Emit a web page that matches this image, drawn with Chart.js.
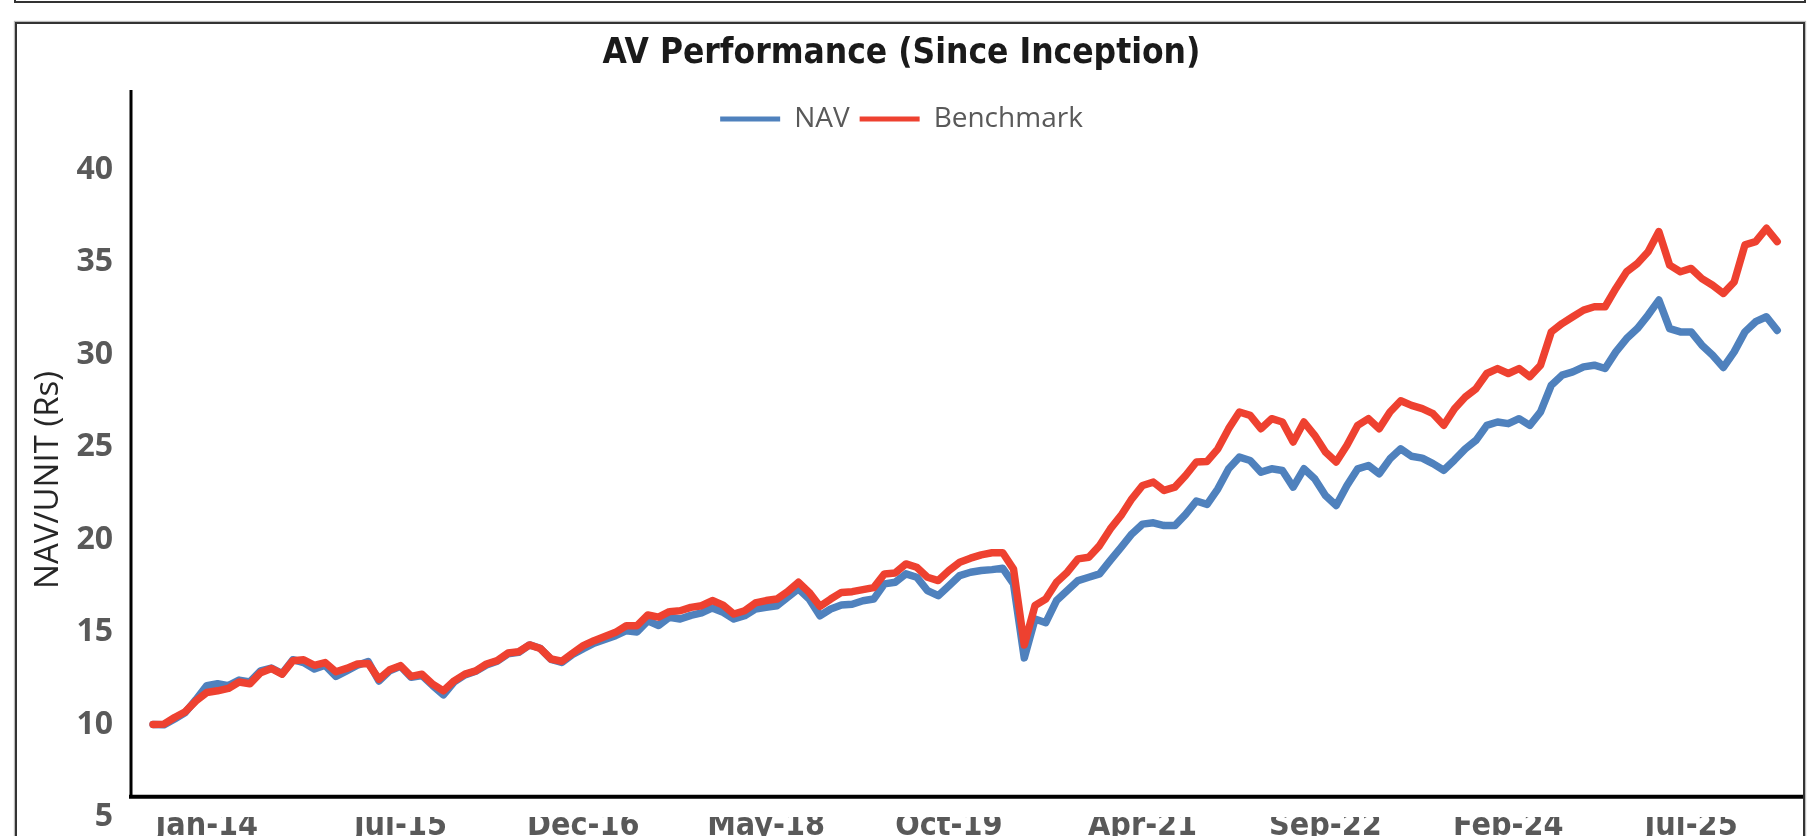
<!DOCTYPE html>
<html>
<head>
<meta charset="utf-8">
<title>AV Performance</title>
<script src="https://cdn.jsdelivr.net/npm/chart.js@4.4.1/dist/chart.umd.min.js"></script>
<style>
  html, body { margin: 0; padding: 0; background: #fff; overflow: hidden; width: 1820px; height: 836px; }
  #prev-box { position: absolute; left: 14px; top: -12px; width: 1788px; height: 11px; border: 2px solid #333; }
  #chart-box { position: absolute; left: 15px; top: 22px; width: 1786px; height: 900px; border: 2px solid #333; box-shadow: 0 0 1px 1px #bbb; }
  #perf-chart { position: absolute; left: 0; top: 0; }
</style>
</head>
<body>
<div id="prev-box"></div>
<div id="chart-box"></div>
<canvas id="perf-chart" width="1820" height="860"></canvas>
<script>
// Monthly sample points, first one is Aug-13 (a little before inception month labels start)
const MONTHS = ["Jan", "Feb", "Mar", "Apr", "May", "Jun", "Jul", "Aug", "Sep", "Oct", "Nov", "Dec"];
let DATES = [];
for (let i = 0; i < 152; i++) {
  let m = (7 + i) % 12;
  let yr = 13 + Math.floor((7 + i) / 12);
  DATES.push(MONTHS[m] + "-" + yr);
}

// Labels printed under the x axis
const TICK_LABELS = ["Jan-14", "Jul-15", "Dec-16", "May-18", "Oct-19", "Apr-21", "Sep-22", "Feb-24", "Jul-25"];

// Y axis tick values
const Y_TICKS = [5, 10, 15, 20, 25, 30, 35, 40];

// NAV per unit (Rs)
const NAV = [
  10.0, 9.98, 10.3, 10.65, 11.35, 12.1, 12.2, 12.1, 12.4, 12.3,
  12.9, 13.05, 12.75, 13.5, 13.35, 13.0, 13.2, 12.6, 12.9, 13.2,
  13.4, 12.35, 12.9, 13.15, 12.55, 12.65, 12.1, 11.6, 12.3, 12.68,
  12.88, 13.22, 13.42, 13.82, 13.9, 14.3, 14.12, 13.52, 13.35, 13.78,
  14.1, 14.4, 14.6, 14.8, 15.07, 15.0, 15.6, 15.35, 15.8, 15.7,
  15.9, 16.03, 16.3, 16.06, 15.7, 15.88, 16.24, 16.33, 16.42, 16.87,
  17.33, 16.78, 15.88, 16.24, 16.46, 16.5, 16.69, 16.78, 17.6, 17.69,
  18.14, 17.96, 17.24, 16.96, 17.5, 18.05, 18.23, 18.32, 18.37, 18.44,
  17.6, 13.6, 15.7, 15.5, 16.7, 17.24, 17.78, 17.96, 18.14, 18.87,
  19.58, 20.3, 20.83, 20.9, 20.75, 20.75, 21.36, 22.08, 21.9, 22.74,
  23.82, 24.45, 24.27, 23.64, 23.82, 23.73, 22.83, 23.82, 23.28, 22.38,
  21.84, 22.92, 23.82, 24.0, 23.55, 24.36, 24.9, 24.5, 24.4, 24.1,
  23.74, 24.3, 24.9, 25.36, 26.17, 26.35, 26.26, 26.53, 26.17, 26.9,
  28.34, 28.88, 29.06, 29.33, 29.42, 29.24, 30.14, 30.86, 31.4, 32.13,
  32.94, 31.4, 31.22, 31.22, 30.5, 29.96, 29.3, 30.14, 31.22, 31.77,
  32.04, 31.3
];

// Benchmark, same months
const BENCHMARK = [
  10.0, 10.02, 10.38, 10.69, 11.28, 11.73, 11.82, 11.95, 12.3, 12.2,
  12.8, 13.03, 12.72, 13.45, 13.5, 13.2, 13.35, 12.85, 13.03, 13.27,
  13.3, 12.45, 12.96, 13.18, 12.6, 12.72, 12.18, 11.82, 12.36, 12.72,
  12.9, 13.27, 13.45, 13.86, 13.93, 14.3, 14.11, 13.54, 13.42, 13.85,
  14.26, 14.53, 14.76, 14.98, 15.34, 15.34, 15.92, 15.8, 16.1, 16.15,
  16.33, 16.42, 16.7, 16.45, 15.97, 16.15, 16.57, 16.7, 16.78, 17.18,
  17.69, 17.14, 16.39, 16.78, 17.14, 17.18, 17.29, 17.4, 18.14, 18.19,
  18.68, 18.5, 17.96, 17.78, 18.32, 18.77, 18.99, 19.17, 19.28, 19.28,
  18.4, 14.3, 16.43, 16.78, 17.69, 18.23, 18.95, 19.04, 19.67, 20.57,
  21.3, 22.2, 22.92, 23.1, 22.65, 22.83, 23.46, 24.19, 24.22, 24.9,
  25.99, 26.89, 26.71, 25.99, 26.53, 26.35, 25.27, 26.35, 25.63, 24.73,
  24.19, 25.09, 26.17, 26.53, 25.99, 26.89, 27.5, 27.25, 27.07, 26.8,
  26.17, 27.07, 27.7, 28.15, 28.97, 29.24, 28.97, 29.24, 28.8, 29.42,
  31.22, 31.67, 32.04, 32.4, 32.58, 32.58, 33.57, 34.47, 34.92, 35.55,
  36.64, 34.83, 34.47, 34.65, 34.1, 33.74, 33.3, 33.92, 35.92, 36.1,
  36.82, 36.1
];

// Where the axis lines sit in value terms (the x axis line crosses a bit above 5)
const AXIS_CROSS = 6.1;
const AXIS_TOP = 44.3;

const CONDENSED = "'DejaVu Sans Condensed', 'Liberation Sans Narrow', 'DejaVu Sans', sans-serif";

// Draws the black axis lines like the original (y line runs above the plot, x line at 6)
const axisLines = {
  id: 'axisLines',
  beforeDatasetsDraw(chart) {
    let c = chart.ctx;
    let area = chart.chartArea;
    let y = chart.scales.y;
    let yTop = y.getPixelForValue(AXIS_TOP);
    let yCross = y.getPixelForValue(AXIS_CROSS);
    c.save();
    c.strokeStyle = '#000';
    c.lineWidth = 3;
    c.beginPath();
    c.moveTo(area.left, yTop);
    c.lineTo(area.left, yCross);
    c.stroke();
    c.lineWidth = 4;
    c.beginPath();
    c.moveTo(area.left - 2, yCross);
    c.lineTo(area.right, yCross);
    c.stroke();
    c.restore();
  }
};

function toPoints(arr) {
  return arr.map((v, i) => ({ x: i, y: v }));
}

var ctx = document.getElementById('perf-chart').getContext('2d');
var chart = new Chart(ctx, {
  type: 'line',
  data: {
    datasets: [{
      label: 'NAV',
      data: toPoints(NAV),
      borderColor: '#4f81bd',
      backgroundColor: '#4f81bd',
      borderWidth: 7.5,
      order: 2
    }, {
      label: 'Benchmark',
      data: toPoints(BENCHMARK),
      borderColor: '#ee4130',
      backgroundColor: '#ee4130',
      borderWidth: 7.5,
      order: 1
    }]
  },
  options: {
    responsive: false,
    animation: false,
    layout: { autoPadding: false, padding: { left: 0, right: 17, top: 0, bottom: 0 } },
    elements: {
      point: { radius: 0 },
      line: { tension: 0, borderJoinStyle: 'round', borderCapStyle: 'round' }
    },
    plugins: {
      title: {
        display: true,
        text: 'AV Performance (Since Inception)',
        color: '#1a1a1a',
        font: { family: CONDENSED, weight: 'bold', size: 35 },
        padding: { top: 33, bottom: 20 }
      },
      legend: {
        display: true,
        position: 'top',
        labels: {
          color: '#595959',
          font: { family: "'Open Sans', sans-serif", size: 28 },
          boxWidth: 60,
          boxHeight: 5,
          padding: 10,
          generateLabels: function (ch) {
            return ch.data.datasets.map((ds, i) => ({
              text: ds.label,
              fillStyle: ds.borderColor,
              strokeStyle: ds.borderColor,
              lineWidth: 0,
              fontColor: '#595959',
              hidden: false,
              datasetIndex: i
            }));
          }
        }
      },
      tooltip: { enabled: false }
    },
    scales: {
      x: {
        type: 'linear',
        min: -2.05,
        max: 153.4,
        grid: { display: false },
        border: { display: false },
        afterFit: function (scale) { scale.height = 43; },
        afterBuildTicks: function (scale) {
          scale.ticks = TICK_LABELS.map(l => ({ value: DATES.indexOf(l) }));
        },
        ticks: {
          autoSkip: false,
          maxRotation: 0,
          padding: -18,
          color: '#595959',
          font: { family: CONDENSED, weight: 'bold', size: 32 },
          callback: function (value) { return DATES[value]; }
        }
      },
      y: {
        min: 5,
        max: 41.43,
        grid: { display: false, drawTicks: false },
        border: { display: false },
        afterFit: function (scale) { scale.width = 131; },
        afterBuildTicks: function (scale) {
          scale.ticks = Y_TICKS.map(v => ({ value: v }));
        },
        ticks: {
          padding: 18,
          color: '#595959',
          font: { family: "'Open Sans', sans-serif", weight: 'bold', size: 32 }
        },
        title: {
          display: true,
          text: 'NAV/UNIT (Rs)',
          color: '#262626',
          font: { family: "'Open Sans', sans-serif", size: 33 },
          padding: { top: 29, bottom: 0 }
        }
      }
    }
  },
  plugins: [axisLines]
});
</script>
</body>
</html>
